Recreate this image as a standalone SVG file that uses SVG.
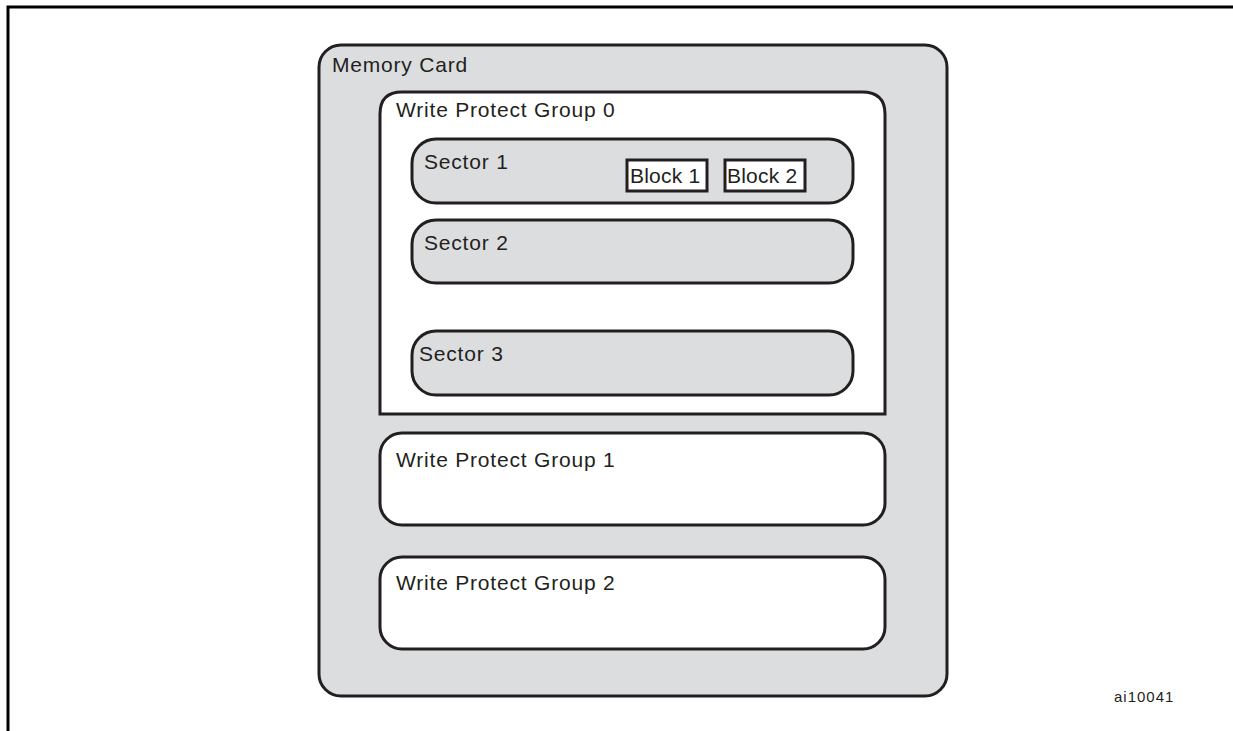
<svg xmlns="http://www.w3.org/2000/svg" width="1233" height="731" viewBox="0 0 1233 731">
<style>
  .box { stroke: #231f20; stroke-width: 3; }
  .grey { fill: #dcdddf; }
  .white { fill: #ffffff; }
  .lbl { font-family: "Liberation Sans", Arial, sans-serif; font-size: 21px; letter-spacing: 0.8px; fill: #231f20; }
  .blk { font-family: "Liberation Sans", Arial, sans-serif; font-size: 21px; letter-spacing: 0.2px; fill: #231f20; }
  .frame { stroke: #000; stroke-width: 3; fill: none; }
</style>
<rect width="1233" height="731" fill="#ffffff"/>
<path class="frame" d="M8,731 V7 H1233"/>
<g id="memory-card">
  <rect class="box grey" x="319" y="45" width="628" height="651" rx="22" ry="22"/>
  <text class="lbl" x="332" y="72">Memory Card</text>
</g>
<g id="wpg0">
  <path class="box white" d="M380,414 V114 Q380,92 402,92 H862 Q885,92 885,114 V414 Z"/>
  <text class="lbl" x="396" y="117">Write Protect Group 0</text>
</g>
<g id="sector1">
  <rect class="box grey" x="412" y="139" width="441" height="64" rx="24" ry="24"/>
  <text class="lbl" x="424" y="169">Sector 1</text>
</g>
<g id="block1">
  <rect class="box white" x="627" y="160" width="80" height="31"/>
  <text class="blk" x="630" y="183">Block 1</text>
</g>
<g id="block2">
  <rect class="box white" x="725" y="160" width="80" height="31"/>
  <text class="blk" x="727" y="183">Block 2</text>
</g>
<g id="sector2">
  <rect class="box grey" x="412" y="220" width="441" height="63" rx="24" ry="24"/>
  <text class="lbl" x="424" y="250">Sector 2</text>
</g>
<g id="sector3">
  <rect class="box grey" x="412" y="331" width="441" height="64" rx="24" ry="24"/>
  <text class="lbl" x="419" y="361">Sector 3</text>
</g>
<g id="wpg1">
  <rect class="box white" x="380" y="433" width="505" height="92" rx="22" ry="22"/>
  <text class="lbl" x="396" y="467">Write Protect Group 1</text>
</g>
<g id="wpg2">
  <rect class="box white" x="380" y="557" width="505" height="92" rx="22" ry="22"/>
  <text class="lbl" x="396" y="590">Write Protect Group 2</text>
</g>
<g id="connectors"></g>
<text x="1114" y="702" style="font-family:'Liberation Sans',Arial,sans-serif;font-size:15px;letter-spacing:1px;fill:#231f20">ai10041</text>
</svg>
